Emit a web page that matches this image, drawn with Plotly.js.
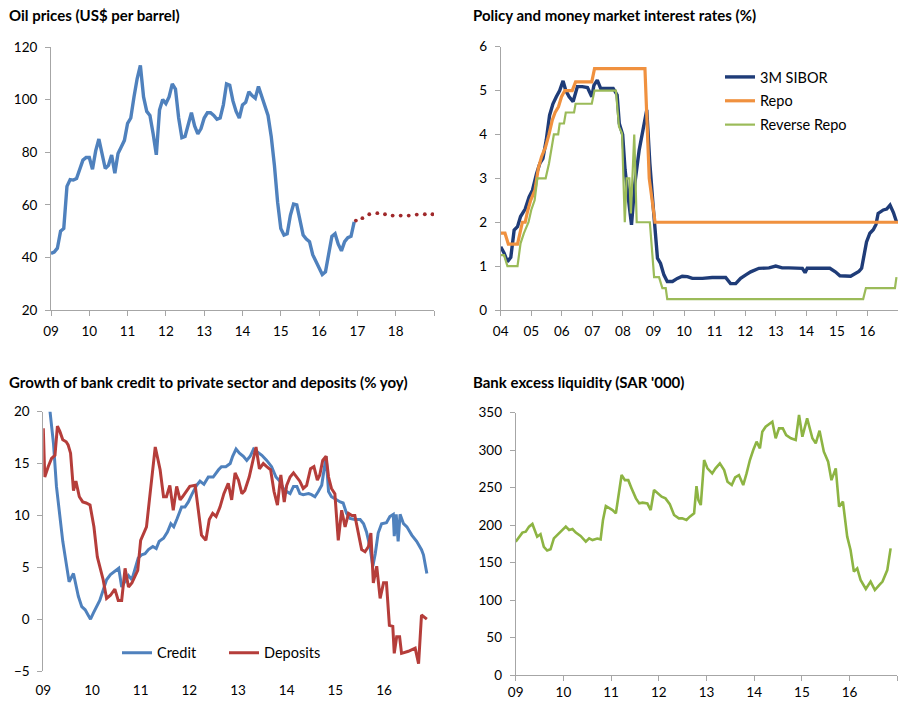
<!DOCTYPE html>
<html>
<head>
<meta charset="utf-8">
<script src="https://cdn.plot.ly/plotly-3.0.1.min.js"></script>
<style>html,body{margin:0;padding:0;background:#fff;}#chart{width:898px;height:702px;}</style>
</head>
<body>
<div id="chart"></div>
<script>
// ---------- Panel 1: Oil prices (monthly, Jan 2009 - Dec 2016) ----------
const oilStartYear = 2009;
const oilPrice = [41.5, 42, 43.5, 50, 51, 67, 69.6, 69.4, 70, 74, 77, 78,
  78, 73.5, 80.5, 85, 80, 73.8, 75, 78.9, 72, 79.5, 82, 84.5,
  91, 93, 101, 108, 113, 101, 95.5, 94, 87, 79, 96, 100,
  98.5, 101, 106, 104, 93, 85.5, 86, 91, 95, 90, 87, 89,
  93, 95, 95, 94, 92.5, 93, 98, 106, 105.5, 99.5, 95.5, 93,
  98, 99, 103, 101.5, 100.5, 105, 101, 97.7, 94, 86, 75, 61,
  51, 48.5, 49, 56, 60.3, 60, 54, 48.5, 47, 46, 41, 38.5,
  35.5, 33.5, 34.5, 41, 48, 49, 45, 42.5, 46, 47.5, 48, 53.5];
const oilForecastYear = [2016.96, 2017.13, 2017.31, 2017.52, 2017.72, 2017.92, 2018.13, 2018.34, 2018.55, 2018.76, 2018.96];
const oilForecast = [54.0, 54.9, 56.4, 56.8, 56.4, 55.9, 55.9, 55.9, 56.3, 56.4, 56.4];

// ---------- Panel 2: Policy and money market rates ----------
const siborYear = [2004.00, 2004.11, 2004.22, 2004.33, 2004.44, 2004.55, 2004.65, 2004.80, 2004.93, 2005.04,
  2005.17, 2005.28, 2005.38, 2005.49, 2005.60, 2005.71, 2005.82, 2005.93, 2006.04, 2006.13,
  2006.24, 2006.37, 2006.51, 2006.67, 2006.84, 2006.98, 2007.05, 2007.16, 2007.27, 2007.68,
  2007.81, 2007.88, 2007.99, 2008.07, 2008.17, 2008.28, 2008.39, 2008.53, 2008.78, 2008.88,
  2008.99, 2009.05, 2009.13, 2009.23, 2009.34, 2009.45, 2009.62, 2009.78, 2009.94, 2010.11,
  2010.27, 2010.60, 2010.92, 2011.36, 2011.52, 2011.69, 2011.85, 2012.02, 2012.18, 2012.45,
  2012.78, 2013.00, 2013.21, 2013.43, 2013.87, 2013.96, 2014.03, 2014.41, 2014.77, 2014.95,
  2015.10, 2015.45, 2015.60, 2015.72, 2015.81, 2015.90, 2015.97, 2016.08, 2016.19, 2016.28,
  2016.35, 2016.52, 2016.63, 2016.74, 2016.85, 2016.95];
const sibor = [1.44, 1.30, 1.10, 1.20, 1.82, 1.90, 2.13, 2.30, 2.58, 2.73,
  3.10, 3.34, 3.45, 3.87, 4.44, 4.70, 4.86, 5.00, 5.22, 5.00,
  4.86, 4.75, 5.09, 5.09, 5.07, 4.86, 5.12, 5.24, 5.05, 5.05,
  4.90, 4.25, 4.00, 3.19, 2.58, 1.94, 2.89, 3.64, 4.56, 3.34,
  2.35, 1.90, 1.18, 1.06, 0.80, 0.65, 0.65, 0.72, 0.77, 0.76,
  0.72, 0.72, 0.74, 0.74, 0.60, 0.60, 0.72, 0.80, 0.87, 0.95,
  0.96, 1.00, 0.96, 0.96, 0.95, 0.85, 0.95, 0.95, 0.95, 0.87,
  0.78, 0.77, 0.82, 0.88, 0.95, 1.25, 1.55, 1.75, 1.83, 1.95,
  2.20, 2.28, 2.30, 2.39, 2.22, 2.01];
const repoYear = [2004.00, 2004.14, 2004.25, 2004.55, 2004.71, 2004.80, 2004.88, 2004.98, 2005.12, 2005.23,
  2005.34, 2005.47, 2005.58, 2005.69, 2005.78, 2005.89, 2005.99, 2006.10, 2006.34, 2006.45,
  2006.98, 2007.07, 2008.72, 2008.86, 2009.05, 2017.00];
const repo = [1.75, 1.75, 1.50, 1.50, 2.00, 2.00, 2.25, 2.50, 2.73, 3.23,
  3.50, 3.72, 4.00, 4.33, 4.50, 4.63, 4.86, 5.00, 5.00, 5.20,
  5.20, 5.50, 5.50, 3.00, 2.00, 2.00];
const revRepoYear = [2004.00, 2004.11, 2004.22, 2004.55, 2004.65, 2004.76, 2004.91, 2005.00, 2005.11, 2005.20,
  2005.47, 2005.58, 2005.74, 2005.88, 2005.93, 2006.07, 2006.13, 2006.40, 2006.45, 2006.98,
  2007.07, 2007.77, 2007.87, 2007.97, 2008.06, 2008.12, 2008.21, 2008.26, 2008.37, 2008.45,
  2008.88, 2009.02, 2009.18, 2009.29, 2009.40, 2009.45, 2015.86, 2015.95, 2016.90, 2016.95];
const revRepo = [1.25, 1.25, 1.00, 1.00, 1.52, 1.75, 2.00, 2.28, 2.50, 3.00,
  3.00, 3.34, 4.00, 4.00, 4.25, 4.25, 4.50, 4.50, 4.70, 4.70,
  5.00, 5.00, 4.18, 4.02, 2.00, 3.00, 3.00, 2.20, 4.00, 2.00,
  2.00, 0.75, 0.75, 0.50, 0.50, 0.25, 0.25, 0.50, 0.50, 0.75];

// ---------- Panel 3: Credit and deposits growth ----------
const creditYear = [2009.00, 2009.14, 2009.21, 2009.27, 2009.34, 2009.40, 2009.47, 2009.53, 2009.62, 2009.67,
  2009.72, 2009.79, 2009.86, 2009.92, 2009.97, 2010.03, 2010.10, 2010.16, 2010.23, 2010.30,
  2010.38, 2010.47, 2010.55, 2010.61, 2010.68, 2010.75, 2010.82, 2010.88, 2010.95, 2011.02,
  2011.09, 2011.16, 2011.25, 2011.32, 2011.38, 2011.47, 2011.55, 2011.62, 2011.68, 2011.75,
  2011.84, 2011.91, 2011.98, 2012.05, 2012.15, 2012.22, 2012.30, 2012.39, 2012.49, 2012.60,
  2012.66, 2012.75, 2012.84, 2012.89, 2012.96, 2013.03, 2013.11, 2013.18, 2013.25, 2013.32,
  2013.40, 2013.49, 2013.59, 2013.69, 2013.78, 2013.86, 2013.93, 2014.00, 2014.07, 2014.14,
  2014.21, 2014.27, 2014.34, 2014.45, 2014.51, 2014.58, 2014.65, 2014.72, 2014.81, 2014.86,
  2014.92, 2014.99, 2015.10, 2015.16, 2015.23, 2015.30, 2015.40, 2015.51, 2015.58, 2015.64,
  2015.71, 2015.77, 2015.82, 2015.88, 2015.95, 2016.05, 2016.12, 2016.19, 2016.21, 2016.25,
  2016.29, 2016.33, 2016.40, 2016.47, 2016.57, 2016.67, 2016.77, 2016.81, 2016.88];
const credit = [26, 20, 16.9, 12.8, 9.6, 7.5, 5.4, 3.6, 4.4, 3.1,
  2.2, 1.2, 0.9, 0.4, 0, 0.6, 1.2, 1.8, 2.8, 3.8,
  4.3, 4.6, 4.9, 3.1, 3.6, 4.2, 3.8, 4.7, 5.9, 6.2,
  6.3, 6.7, 7.0, 6.8, 7.5, 7.8, 8.4, 9.2, 8.9, 9.7,
  10.8, 10.8, 11.3, 12.0, 12.9, 13.3, 13.0, 13.7, 13.7, 14.4,
  14.7, 14.7, 15.0, 15.7, 16.4, 16.0, 15.7, 15.3, 15.7, 16.4,
  16.1, 15.8, 15.3, 14.7, 13.7, 13.3, 12.6, 12.3, 12.1, 12.8,
  12.8, 12.1, 12.0, 12.1, 12.0, 11.8, 12.3, 12.9, 15.7, 12.3,
  11.8, 11.6, 11.3, 11.2, 10.2, 9.7, 9.6, 9.6, 9.2, 8.4,
  7.0, 5.1, 6.3, 8.3, 9.2, 9.3, 9.9, 10.1, 8.0, 10.1,
  7.5, 10.1, 9.2, 8.9, 8.1, 7.5, 6.7, 6.2, 4.4];
const depositsYear = [2009.00, 2009.03, 2009.10, 2009.17, 2009.24, 2009.29, 2009.34, 2009.40, 2009.47, 2009.51,
  2009.56, 2009.62, 2009.67, 2009.74, 2009.81, 2009.88, 2009.96, 2010.04, 2010.11, 2010.18,
  2010.23, 2010.30, 2010.38, 2010.47, 2010.54, 2010.61, 2010.68, 2010.75, 2010.82, 2010.88,
  2010.94, 2011.00, 2011.05, 2011.12, 2011.18, 2011.25, 2011.30, 2011.36, 2011.40, 2011.47,
  2011.53, 2011.60, 2011.67, 2011.74, 2011.81, 2011.86, 2011.93, 2012.01, 2012.12, 2012.18,
  2012.25, 2012.34, 2012.41, 2012.48, 2012.55, 2012.63, 2012.71, 2012.80, 2012.87, 2012.94,
  2013.01, 2013.08, 2013.14, 2013.23, 2013.32, 2013.37, 2013.44, 2013.52, 2013.59, 2013.67,
  2013.74, 2013.81, 2013.88, 2013.95, 2014.00, 2014.07, 2014.14, 2014.21, 2014.27, 2014.34,
  2014.41, 2014.49, 2014.56, 2014.63, 2014.68, 2014.74, 2014.81, 2014.86, 2014.92, 2014.99,
  2015.06, 2015.13, 2015.20, 2015.27, 2015.34, 2015.40, 2015.47, 2015.54, 2015.61, 2015.68,
  2015.73, 2015.78, 2015.85, 2015.92, 2015.99, 2016.05, 2016.11, 2016.18, 2016.21, 2016.26,
  2016.32, 2016.36, 2016.50, 2016.64, 2016.71, 2016.77, 2016.88];
const deposits = [18.4, 13.7, 14.7, 15.5, 15.8, 18.6, 18.1, 17.3, 17.1, 16.8,
  16.0, 12.4, 13.3, 11.8, 11.3, 11.2, 11.0, 8.9, 6.0, 4.7,
  3.8, 2.0, 2.3, 2.9, 1.8, 1.8, 4.9, 3.1, 3.5, 4.1,
  4.7, 7.6, 8.1, 8.9, 11.5, 14.7, 16.6, 15.3, 14.4, 11.8,
  11.8, 12.9, 10.5, 12.8, 11.5, 11.8, 12.3, 12.8, 12.9, 10.8,
  8.1, 7.6, 9.6, 10.2, 9.9, 10.8, 12.1, 13.1, 11.5, 14.1,
  13.4, 12.1, 12.4, 13.7, 15.7, 16.6, 14.5, 15.0, 14.7, 14.4,
  12.3, 11.0, 13.9, 11.3, 12.9, 13.7, 14.1, 13.7, 13.3, 12.6,
  12.9, 14.5, 14.7, 13.4, 13.9, 15.3, 15.7, 13.7, 12.6, 12.1,
  7.6, 10.5, 8.9, 10.2, 10.0, 10.0, 8.3, 6.7, 6.5, 7.0,
  8.3, 3.5, 5.1, 2.0, 3.5, 3.5, -0.6, -0.7, -3.3, -1.7,
  -1.7, -3.3, -3.1, -2.8, -4.3, 0.4, 0.0];

// ---------- Panel 4: Bank excess liquidity ----------
const liqYear = [2009.00, 2009.07, 2009.14, 2009.21, 2009.28, 2009.35, 2009.41, 2009.45, 2009.52, 2009.59,
  2009.66, 2009.73, 2009.80, 2009.87, 2009.96, 2010.05, 2010.12, 2010.19, 2010.26, 2010.36,
  2010.47, 2010.54, 2010.61, 2010.71, 2010.78, 2010.83, 2010.89, 2010.96, 2011.03, 2011.10,
  2011.17, 2011.22, 2011.29, 2011.36, 2011.43, 2011.52, 2011.59, 2011.66, 2011.76, 2011.83,
  2011.90, 2011.97, 2012.06, 2012.14, 2012.23, 2012.32, 2012.42, 2012.49, 2012.58, 2012.65,
  2012.74, 2012.79, 2012.83, 2012.88, 2012.95, 2013.02, 2013.12, 2013.19, 2013.28, 2013.37,
  2013.44, 2013.53, 2013.60, 2013.68, 2013.77, 2013.84, 2013.91, 2013.98, 2014.05, 2014.12,
  2014.17, 2014.24, 2014.32, 2014.38, 2014.45, 2014.52, 2014.60, 2014.67, 2014.77, 2014.87,
  2014.94, 2015.01, 2015.11, 2015.22, 2015.29, 2015.37, 2015.46, 2015.55, 2015.62, 2015.71,
  2015.78, 2015.86, 2015.95, 2016.02, 2016.09, 2016.16, 2016.23, 2016.34, 2016.44, 2016.53,
  2016.62, 2016.69, 2016.79, 2016.86];
const liquidity = [177.9, 184.6, 190, 191.2, 198, 201.5, 191.2, 184.6, 188, 171,
  166, 167.7, 182.3, 186.8, 192.6, 198, 193.5, 194.8, 190, 185.5,
  177.9, 182.3, 180, 182, 181, 207, 225.5, 223.3, 220, 215.7,
  244.6, 266.8, 260, 260, 249, 235.7, 229, 230, 229, 220,
  246.8, 242.4, 238, 235.7, 228, 213.5, 209, 209, 206.8, 211.3,
  215.7, 252, 233.5, 226.8, 286.9, 275.7, 269, 275.7, 282.4, 273.5,
  258, 253.5, 263.7, 266.8, 253.5, 269, 286.9, 300.2, 311.3, 302.4,
  324.7, 331.3, 335.8, 338, 315.8, 329.1, 329.1, 320.2, 315.8, 313.5,
  346.9, 318, 342.4, 315.8, 309.1, 326, 298, 284.6, 260, 275.7,
  224.6, 231.3, 184.6, 166.8, 137.9, 142.3, 126.8, 114.8, 124.6, 113.4,
  120, 124.6, 140, 169];

// ---------- Tick labels ----------
const oilTickVals = [2009, 2010, 2011, 2012, 2013, 2014, 2015, 2016, 2017, 2018, 2019];
const oilTickText = ['09', '10', '11', '12', '13', '14', '15', '16', '17', '18', ''];
const rateTickVals = [2004, 2005, 2006, 2007, 2008, 2009, 2010, 2011, 2012, 2013, 2014, 2015, 2016, 2017];
const rateTickText = ['04', '05', '06', '07', '08', '09', '10', '11', '12', '13', '14', '15', '16', ''];
const bankTickVals = [2009, 2010, 2011, 2012, 2013, 2014, 2015, 2016, 2017];
const bankTickText = ['09', '10', '11', '12', '13', '14', '15', '16', ''];

// ---------- Build ----------
const W = 898, H = 702;
const px = v => v / W;
const py = v => 1 - v / H;
const oilYear = oilPrice.map((_, i) => oilStartYear + i / 12);

const FONT = 'Lato, "Open Sans", sans-serif';
const AX = '#A6A6A6';
const tickFont = {family: FONT, size: 13.5, color: '#000'};
function axis(extra) {
  return Object.assign({
    showgrid: false, zeroline: false, showline: true, linecolor: AX, linewidth: 1,
    ticks: 'outside', ticklen: 5, tickcolor: AX, tickwidth: 1, tickfont: tickFont,
    fixedrange: true
  }, extra);
}
const xa = extra => axis(Object.assign({ticklabelstandoff: 4}, extra));
const ya = extra => axis(Object.assign({ticklabelstandoff: 5}, extra));

const traces = [
  {x: oilYear, y: oilPrice, xaxis: 'x', yaxis: 'y', mode: 'lines', showlegend: false,
   line: {color: '#4F81BD', width: 3.4}, hoverinfo: 'skip'},
  {x: oilForecastYear, y: oilForecast, xaxis: 'x', yaxis: 'y', mode: 'markers', showlegend: false,
   marker: {color: '#A0282A', size: 3.8}, hoverinfo: 'skip'},

  {x: siborYear, y: sibor, xaxis: 'x2', yaxis: 'y2', mode: 'lines', name: '3M SIBOR',
   legend: 'legend', legendgroup: 'a', line: {color: '#1F3C78', width: 3.4}, hoverinfo: 'skip'},
  {x: repoYear, y: repo, xaxis: 'x2', yaxis: 'y2', mode: 'lines', name: 'Repo',
   legend: 'legend', legendgroup: 'b', line: {color: '#F0913F', width: 3.2}, hoverinfo: 'skip'},
  {x: revRepoYear, y: revRepo, xaxis: 'x2', yaxis: 'y2', mode: 'lines', name: 'Reverse Repo',
   legend: 'legend', legendgroup: 'c', line: {color: '#9BBB59', width: 2.2}, hoverinfo: 'skip'},

  {x: creditYear, y: credit, xaxis: 'x3', yaxis: 'y3', mode: 'lines', name: 'Credit',
   legend: 'legend2', line: {color: '#4F81BD', width: 3}, hoverinfo: 'skip'},
  {x: depositsYear, y: deposits, xaxis: 'x3', yaxis: 'y3', mode: 'lines', name: 'Deposits',
   legend: 'legend2', line: {color: '#B53D3A', width: 3}, hoverinfo: 'skip'},

  {x: liqYear, y: liquidity, xaxis: 'x4', yaxis: 'y4', mode: 'lines', showlegend: false,
   line: {color: '#8DB443', width: 2.6}, hoverinfo: 'skip'}
];

const d3y = [py(671), py(411.7)];
const y3range = [-5, 20];
const zeroPos = d3y[0] + (0 - y3range[0]) / (y3range[1] - y3range[0]) * (d3y[1] - d3y[0]);

const titleFont = {family: FONT, size: 15, color: '#000'};
const legendFont = {family: FONT, size: 14.5, color: '#000'};
const layout = {
  width: W, height: H,
  margin: {l: 0, r: 0, t: 0, b: 0},
  paper_bgcolor: '#fff', plot_bgcolor: 'rgba(0,0,0,0)',
  showlegend: true,
  xaxis: xa({domain: [px(51), px(434)], range: [2009, 2019], anchor: 'y',
    tickvals: oilTickVals, ticktext: oilTickText}),
  yaxis: ya({domain: [py(310), py(47)], range: [20, 120], dtick: 20, anchor: 'x'}),

  xaxis2: xa({domain: [px(500.7), px(898)], range: [2004, 2017], anchor: 'y2',
    tickvals: rateTickVals, ticktext: rateTickText}),
  yaxis2: ya({domain: [py(310), py(46.7)], range: [0, 6], dtick: 1, anchor: 'x2'}),

  xaxis3: xa({domain: [px(43.3), px(432.7)], range: [2009, 2017], anchor: 'y3', ticklabelstandoff: 2,
    tickvals: bankTickVals, ticktext: bankTickText, showline: false, tickcolor: 'rgba(0,0,0,0)'}),
  yaxis3: ya({domain: d3y, range: y3range, dtick: 5, anchor: 'x3'}),
  xaxis5: xa({domain: [px(43.3), px(432.7)], range: [2009, 2017], anchor: 'free', overlaying: 'x3',
    position: zeroPos, tickvals: bankTickVals, showticklabels: false}),

  xaxis4: xa({domain: [px(515.7), px(897.3)], range: [2009, 2017], anchor: 'y4', ticklabelstandoff: 0,
    tickvals: bankTickVals, ticktext: bankTickText}),
  yaxis4: ya({domain: [py(675), py(412.7)], range: [0, 350], dtick: 50, anchor: 'x4'}),

  legend: {x: px(720), xanchor: 'left', y: py(61), yanchor: 'top', bgcolor: 'rgba(0,0,0,0)',
    font: legendFont, traceorder: 'grouped', tracegroupgap: 2, itemwidth: 30},
  legend2: {x: px(117), xanchor: 'left', y: py(652.7), yanchor: 'middle', orientation: 'h', bgcolor: 'rgba(0,0,0,0)',
    font: legendFont, itemwidth: 30, entrywidth: 62},

  annotations: [
    {text: '<b>Oil prices (US$ per barrel)</b>', x: px(7), y: py(15)},
    {text: '<b>Policy and money market interest rates (%)</b>', x: px(471), y: py(15)},
    {text: '<b>Growth of bank credit to private sector and deposits (% yoy)</b>', x: px(7), y: py(382)},
    {text: '<b>Bank excess liquidity (SAR \'000)</b>', x: px(471), y: py(382)}
  ].map(a => Object.assign({xref: 'paper', yref: 'paper', xanchor: 'left', yanchor: 'middle',
    showarrow: false, font: titleFont}, a))
};

Plotly.newPlot('chart', traces, layout, {displayModeBar: false, staticPlot: true});
</script>
</body>
</html>
